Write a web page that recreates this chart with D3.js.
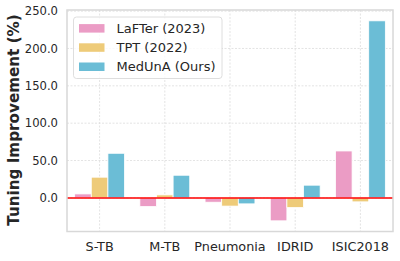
<!DOCTYPE html>
<html>
<head>
<meta charset="utf-8">
<script src="https://cdn.jsdelivr.net/npm/d3@7"></script>
<style>
  body { margin: 0; background: #fff; }
  svg { font-family: "DejaVu Sans", sans-serif; }
</style>
</head>
<body>
<svg id="chart" width="400" height="261"></svg>
<script>
var categories = ["S-TB", "M-TB", "Pneumonia", "IDRID", "ISIC2018"];
var seriesNames = ["LaFTer (2023)", "TPT (2022)", "MedUnA (Ours)"];
var lafter = [5.3, -11.6, -5.8, -30.7, 62.8];
var tpt = [27.7, 4.0, -11.0, -13.0, -5.3];
var meduna = [59.7, 30.3, -8.0, 17.0, 237.0];
var yTicks = [0, 50, 100, 150, 200, 250];
var colors = ["#eb9cc5", "#eecb79", "#6bbdd6"];

var seriesValues = [lafter, tpt, meduna];
var svg = d3.select("#chart");
var margin = {left: 67, right: 7, top: 10, bottom: 29.5};
var W = 400, H = 261;

var x = d3.scaleBand()
    .domain(categories)
    .range([margin.left, W - margin.right])
    .paddingInner(0).paddingOuter(0);
var step = x.bandwidth();
var barW = step * 0.255;

var y = d3.scaleLinear()
    .domain([-45, 251.5])
    .range([H - margin.bottom, margin.top]);

// grid
var grid = svg.append("g");
grid.selectAll("line.h").data(yTicks).enter().append("line")
    .attr("x1", margin.left).attr("x2", W - margin.right)
    .attr("y1", function(d){ return y(d); }).attr("y2", function(d){ return y(d); })
    .attr("stroke", "#dcdcdc").attr("stroke-width", 0.8).attr("stroke-dasharray", "2,1.5");
grid.selectAll("line.v").data(categories).enter().append("line")
    .attr("x1", function(d){ return x(d) + step / 2; })
    .attr("x2", function(d){ return x(d) + step / 2; })
    .attr("y1", margin.top).attr("y2", H - margin.bottom)
    .attr("stroke", "#dcdcdc").attr("stroke-width", 0.8).attr("stroke-dasharray", "2,1.5");

// bars
seriesValues.forEach(function(vals, si) {
  svg.append("g").selectAll("rect").data(vals).enter().append("rect")
    .attr("x", function(d, i){ return x(categories[i]) + step / 2 + (si - 1) * barW - barW / 2; })
    .attr("width", barW)
    .attr("y", function(d){ return y(Math.max(0, d)); })
    .attr("height", function(d){ return Math.abs(y(d) - y(0)); })
    .attr("fill", colors[si])
    .attr("stroke", "#ffffff").attr("stroke-width", 0.8);
});

// zero line
svg.append("line")
    .attr("x1", margin.left).attr("x2", W - margin.right)
    .attr("y1", y(0)).attr("y2", y(0))
    .attr("stroke", "#ff0000").attr("stroke-width", 1.5);

// frame
svg.append("rect")
    .attr("x", margin.left).attr("y", margin.top)
    .attr("width", W - margin.left - margin.right)
    .attr("height", H - margin.top - margin.bottom)
    .attr("fill", "none").attr("stroke", "#d8d8d8").attr("stroke-width", 1.5);

// axes
var yAxis = svg.append("g")
    .attr("transform", "translate(" + margin.left + ",0)")
    .call(d3.axisLeft(y).tickValues(yTicks).tickSize(0).tickPadding(9)
      .tickFormat(function(d){ return d3.format(".1f")(d); }));
yAxis.select(".domain").remove();
yAxis.selectAll("text").attr("font-size", 11.6).attr("fill", "#262626")
    .attr("font-family", "DejaVu Sans");

var xAxis = svg.append("g")
    .attr("transform", "translate(0," + (H - margin.bottom) + ")")
    .call(d3.axisBottom(x).tickSize(0).tickPadding(10.5));
xAxis.select(".domain").remove();
xAxis.selectAll("text").attr("font-size", 12.8).attr("fill", "#262626")
    .attr("font-family", "DejaVu Sans");

// y label
svg.append("text")
    .attr("transform", "translate(18.5,120) rotate(-90)")
    .attr("text-anchor", "middle")
    .attr("font-size", 15.2).attr("font-weight", "bold").attr("fill", "#262626")
    .text("Tuning Improvement (%)");

// legend
var lg = svg.append("g");
lg.append("rect")
    .attr("x", 73.5).attr("y", 17).attr("width", 148.5).attr("height", 61.5)
    .attr("rx", 3).attr("fill", "#ffffff").attr("fill-opacity", 0.8)
    .attr("stroke", "#d6d6d6").attr("stroke-width", 0.8);
seriesNames.forEach(function(name, i) {
  var cy = 28.3 + i * 19.2;
  lg.append("rect").attr("x", 79).attr("y", cy - 4.2).attr("width", 25.5).attr("height", 8.5)
    .attr("fill", colors[i]);
  lg.append("text").attr("x", 116.5).attr("y", cy).attr("dy", "0.36em")
    .attr("font-size", 13).attr("fill", "#262626").text(name);
});
</script>
</body>
</html>
